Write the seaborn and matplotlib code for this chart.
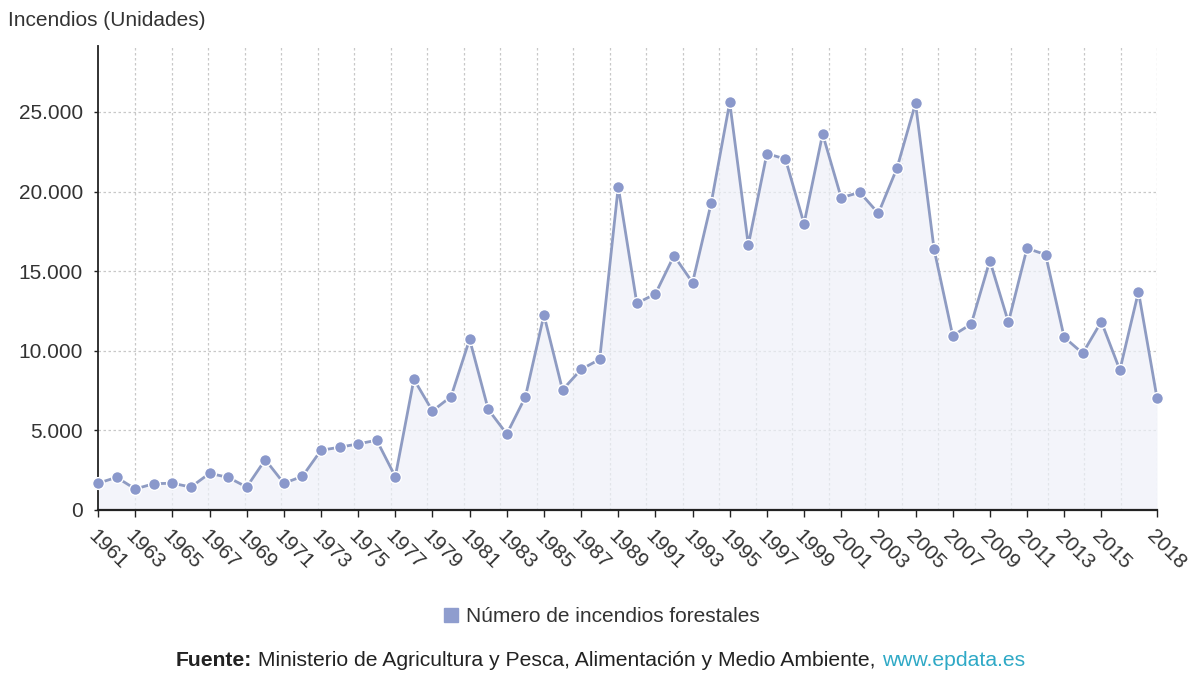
import numpy as np
import pandas as pd
import seaborn as sns
import matplotlib.pyplot as plt
from matplotlib.ticker import FuncFormatter

# data
years = list(range(1961, 2019))
incendios = [1680, 2050, 1320, 1650, 1680, 1440, 2300, 2050, 1440, 3160,
             1680, 2110, 3750, 3940, 4150, 4380, 2090, 8210, 6220, 7120,
             10720, 6320, 4770, 7100, 12250, 7540, 8830, 9460, 20300, 12980,
             13570, 15970, 14280, 19260, 25600, 16640, 22380, 22040, 17980, 23610,
             19610, 19950, 18630, 21460, 25540, 16370, 10950, 11680, 15660, 11790,
             16430, 16040, 10850, 9840, 11830, 8790, 13710, 7020]
tick_years = list(range(1961, 2016, 2)) + [2018]
serie = "Número de incendios forestales"

df = pd.DataFrame({"Año": years, "Incendios": incendios})

sns.set_style("white")
plt.rcParams['font.family'] = ['Liberation Sans', 'DejaVu Sans']

line_col = "#8e9bc2"
mark_col = "#8a98cb"
text_col = "#333333"
fs = 15

fig = plt.figure(figsize=(12, 6.76), dpi=100)
ax = fig.add_axes([0.0817, 0.2456, 0.8825, 0.6878])

ax.fill_between(df["Año"], df["Incendios"], 0, color="#eef0f8", alpha=0.7, lw=0, zorder=1)
sns.lineplot(data=df, x="Año", y="Incendios", ax=ax, color=line_col, lw=2,
             marker="o", markersize=8.5, markerfacecolor=mark_col,
             markeredgecolor="white", markeredgewidth=1, zorder=3, clip_on=False)

ax.set_xlim(1961, 2018)
ax.set_ylim(0, 29200)
ax.set_yticks([0, 5000, 10000, 15000, 20000, 25000])
ax.yaxis.set_major_formatter(FuncFormatter(lambda v, p: f"{int(v):,}".replace(",", ".")))
ax.set_xticks(tick_years)
ax.set_xticklabels([str(y) for y in tick_years], rotation=-45, ha="left", va="top",
                   rotation_mode="anchor")
ax.tick_params(axis="x", length=5, width=1, color="#222222", labelsize=fs,
               labelcolor=text_col, pad=7, direction="out", bottom=True)
ax.tick_params(axis="y", length=3, width=1, color="#222222", labelsize=fs,
               labelcolor=text_col, pad=8, left=True)
ax.set_xlabel("")
ax.set_ylabel("")

# grid
ax.grid(axis="y", color="#c8c8c8", ls=(0, (2, 2)), lw=0.9)
for gx in np.linspace(1963, 2018, 29):
    ax.axvline(gx, color="#c8c8c8", ls=(0, (2, 2)), lw=0.9, zorder=0.5)

for s in ["top", "right"]:
    ax.spines[s].set_visible(False)
ax.spines["left"].set_color("#222222")
ax.spines["left"].set_linestyle((0, (1, 1)))
ax.spines["left"].set_linewidth(1.3)
ax.spines["bottom"].set_color("#222222")
ax.spines["bottom"].set_linewidth(1.6)

fig.text(8 / 1200, 1 - 20 / 676, "Incendios (Unidades)", fontsize=fs, color=text_col,
         ha="left", va="center")

# legend
ax.legend(handles=[plt.Line2D([], [], marker="s", ls="", color="#8f9dce", markersize=10)],
          labels=[serie], loc="center", bbox_to_anchor=(0.5, 1 - 617 / 676),
          bbox_transform=fig.transFigure, frameon=False, fontsize=fs,
          handletextpad=0.2, handlelength=1.0, labelcolor=text_col)

# source line, pieces placed one after the other
fig.canvas.draw()
r = fig.canvas.get_renderer()
x0 = 176
parts = [("Fuente:", "bold", "#222222"),
         (" Ministerio de Agricultura y Pesca, Alimentación y Medio Ambiente, ", "normal", "#222222"),
         ("www.epdata.es", "normal", "#2fa9c6")]
for txt, w, c in parts:
    t = fig.text(x0 / 1200, 1 - 660 / 676, txt, fontsize=15.25, fontweight=w,
                 color=c, ha="left", va="center")
    x0 += t.get_window_extent(r).width

fig.savefig("out.png", dpi=100, facecolor="white")
